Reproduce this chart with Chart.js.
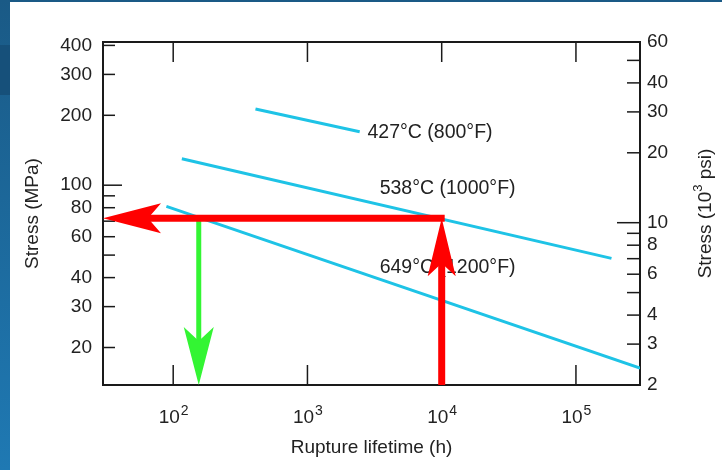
<!DOCTYPE html>
<html>
<head>
<meta charset="utf-8">
<script src="https://cdn.jsdelivr.net/npm/chart.js@4/dist/chart.umd.min.js"></script>
<style>
    html, body { margin: 0; padding: 0; background: #fff; }
    canvas { display: block; }
</style>
</head>
<body>
<canvas id="chart-rupture" width="722" height="470"></canvas>
<script>
// Stress vs rupture lifetime, one line per temperature (h, MPa)
const TEMP_LABELS = ['427°C (800°F)', '538°C (1000°F)', '649°C (1200°F)'];
const LIFE_427 = [410, 2450];
const STRESS_427 = [213, 170];
const LIFE_538 = [116, 184000];
const STRESS_538 = [130, 48.4];
const LIFE_649 = [89, 300000];
const STRESS_649 = [81, 16.3];

// anchor of each temperature label (h, MPa)
const LABEL_LIFE = [2800, 3450, 3450];
const LABEL_STRESS = [168, 97, 44];

// worked example: 1e4 h at 538°C gives the stress, read back at 649°C
const EXAMPLE_LIFE = [10000, 155];
const EXAMPLE_STRESS = 72;

const X_TICKS = [100, 1000, 10000, 100000];
const X_EXPONENTS = ['2', '3', '4', '5'];
const Y_TICKS = [20, 30, 40, 60, 80, 100, 200, 300, 400];
const Y_MINOR = [50, 70, 90];
const PSI_TICKS = [2, 3, 4, 6, 8, 10, 20, 30, 40, 60];
const PSI_MINOR = [5, 7, 9, 50];
const MPA_PER_KSI = 6.895;

const FONT = '"Liberation Sans", Arial, sans-serif';
const TEXT = '#222';
const CYAN = '#1ec3e6';
const RED = '#ff0000';
const GREEN = '#33f533';

Chart.defaults.font.family = FONT;
Chart.defaults.color = TEXT;

function toPoints(xs, ys) {
    return xs.map((x, i) => ({ x: x, y: ys[i] }));
}

function line(ctx, x0, y0, x1, y1) {
    ctx.beginPath();
    ctx.moveTo(x0, y0);
    ctx.lineTo(x1, y1);
    ctx.stroke();
}

function drawArrow(ctx, x0, y0, x1, y1, shaft, color, head, half, notch) {
    const ang = Math.atan2(y1 - y0, x1 - x0);
    const ux = Math.cos(ang), uy = Math.sin(ang);
    const nx = -uy, ny = ux;
    ctx.strokeStyle = color;
    ctx.lineWidth = shaft;
    ctx.lineCap = 'butt';
    line(ctx, x0, y0, x1 - ux * (notch - 1), y1 - uy * (notch - 1));
    ctx.fillStyle = color;
    ctx.beginPath();
    ctx.moveTo(x1, y1);
    ctx.lineTo(x1 - ux * head + nx * half, y1 - uy * head + ny * half);
    ctx.lineTo(x1 - ux * notch, y1 - uy * notch);
    ctx.lineTo(x1 - ux * head - nx * half, y1 - uy * head - ny * half);
    ctx.closePath();
    ctx.fill();
}

const backgroundPlugin = {
    id: 'slideBackground',
    beforeDraw(chart) {
        const { ctx, width, height } = chart;
        ctx.save();
        const g = ctx.createLinearGradient(0, 0, 0, height);
        g.addColorStop(0, '#1a5a86');
        g.addColorStop(1, '#1f79b3');
        ctx.fillStyle = g;
        ctx.fillRect(0, 0, width, height);
        ctx.fillStyle = '#16507a';
        ctx.fillRect(0, 45, 10, 50);
        ctx.fillStyle = '#ffffff';
        ctx.fillRect(10, 2, width - 10, height - 2);
        ctx.restore();
    }
};

const framePlugin = {
    id: 'frameTicks',
    beforeDatasetsDraw(chart) {
        const { ctx, chartArea } = chart;
        const { left, right, top, bottom } = chartArea;
        const x = chart.scales.x, y = chart.scales.y, y2 = chart.scales.y2;
        ctx.save();
        ctx.strokeStyle = '#1a1a1a';
        ctx.lineWidth = 2;
        ctx.strokeRect(left, top, right - left, bottom - top);
        ctx.lineWidth = 1.5;
        X_TICKS.forEach(v => {
            const px = x.getPixelForValue(v);
            line(ctx, px, bottom, px, bottom - 20);
            line(ctx, px, top, px, top + 20);
        });
        Y_TICKS.concat(Y_MINOR).forEach(v => {
            const py = y.getPixelForValue(v);
            line(ctx, left, py, left + (v === 100 ? 19 : 12), py);
        });
        PSI_TICKS.concat(PSI_MINOR).forEach(v => {
            const py = y2.getPixelForValue(v);
            line(ctx, right, py, right - (v === 10 ? 23 : 13), py);
        });
        ctx.restore();
    }
};

const annotationPlugin = {
    id: 'annotations',
    afterDatasetsDraw(chart) {
        const { ctx, chartArea } = chart;
        const x = chart.scales.x, y = chart.scales.y;
        ctx.save();

        // temperature labels
        ctx.fillStyle = TEXT;
        ctx.font = '19.5px ' + FONT;
        ctx.textAlign = 'left';
        ctx.textBaseline = 'middle';
        TEMP_LABELS.forEach((t, i) => {
            ctx.fillText(t, x.getPixelForValue(LABEL_LIFE[i]), y.getPixelForValue(LABEL_STRESS[i]));
        });

        // x tick labels as 10^n
        ctx.textBaseline = 'alphabetic';
        X_TICKS.forEach((v, i) => {
            const px = x.getPixelForValue(v);
            ctx.font = '19px ' + FONT;
            const wBase = ctx.measureText('10').width;
            ctx.font = '14px ' + FONT;
            const wExp = ctx.measureText(X_EXPONENTS[i]).width;
            const x0 = px - (wBase + wExp) / 2;
            ctx.font = '19px ' + FONT;
            ctx.fillText('10', x0, 423);
            ctx.font = '14px ' + FONT;
            ctx.fillText(X_EXPONENTS[i], x0 + wBase + 1, 415);
        });

        // right axis title, reading upward
        ctx.save();
        ctx.translate(706, (chartArea.top + chartArea.bottom) / 2);
        ctx.rotate(-Math.PI / 2);
        const parts = [['Stress (10', 19, 0], ['3', 13, -8], [' psi)', 19, 0]];
        let total = 0;
        parts.forEach(p => { ctx.font = p[1] + 'px ' + FONT; total += ctx.measureText(p[0]).width; });
        let cx = -total / 2;
        ctx.textBaseline = 'middle';
        parts.forEach(p => {
            ctx.font = p[1] + 'px ' + FONT;
            ctx.fillText(p[0], cx, p[2]);
            cx += ctx.measureText(p[0]).width;
        });
        ctx.restore();

        // example arrows
        const ys = y.getPixelForValue(EXAMPLE_STRESS);
        const xr = x.getPixelForValue(EXAMPLE_LIFE[0]);
        const xg = x.getPixelForValue(EXAMPLE_LIFE[1]);
        drawArrow(ctx, xg, ys, xg, chartArea.bottom, 5, GREEN, 58, 15, 44);
        drawArrow(ctx, xr, chartArea.bottom, xr, ys, 7, RED, 58, 14, 45);
        drawArrow(ctx, xr + 3, ys, chartArea.left, ys, 7, RED, 58, 15, 45);

        ctx.restore();
    }
};

const lineStyle = {
    borderColor: CYAN,
    backgroundColor: CYAN,
    borderWidth: 3,
    pointRadius: 0,
    fill: false,
    yAxisID: 'y'
};

new Chart(document.getElementById('chart-rupture'), {
    type: 'line',
    data: {
        datasets: [
            Object.assign({ label: TEMP_LABELS[0], data: toPoints(LIFE_427, STRESS_427) }, lineStyle),
            Object.assign({ label: TEMP_LABELS[1], data: toPoints(LIFE_538, STRESS_538) }, lineStyle),
            Object.assign({ label: TEMP_LABELS[2], data: toPoints(LIFE_649, STRESS_649) }, lineStyle)
        ]
    },
    options: {
        responsive: false,
        animation: false,
        layout: { padding: { top: 42, left: 0, right: 0, bottom: 0 } },
        plugins: {
            legend: { display: false },
            tooltip: { enabled: false }
        },
        scales: {
            x: {
                type: 'logarithmic',
                min: 30,
                max: 300000,
                grid: { display: false, drawTicks: false },
                border: { display: false },
                ticks: { display: false },
                afterBuildTicks: (scale) => { scale.ticks = X_TICKS.map(v => ({ value: v })); },
                afterFit: (scale) => { scale.height = 85; },
                title: {
                    display: true,
                    text: 'Rupture lifetime (h)',
                    font: { size: 19 },
                    color: TEXT,
                    padding: { top: 0, bottom: 11 }
                }
            },
            y: {
                type: 'logarithmic',
                position: 'left',
                min: 2 * MPA_PER_KSI,
                max: 60 * MPA_PER_KSI,
                grid: { display: false, drawTicks: false },
                border: { display: false },
                ticks: {
                    autoSkip: false,
                    padding: 11,
                    font: { size: 19 },
                    color: TEXT,
                    callback: (v) => String(v)
                },
                afterBuildTicks: (scale) => { scale.ticks = Y_TICKS.map(v => ({ value: v })); },
                afterFit: (scale) => { scale.width = 103; },
                title: {
                    display: true,
                    text: 'Stress (MPa)',
                    font: { size: 19 },
                    color: TEXT,
                    padding: { top: 21, bottom: 0 }
                }
            },
            y2: {
                type: 'logarithmic',
                position: 'right',
                min: 2,
                max: 60,
                grid: { display: false, drawTicks: false },
                border: { display: false },
                ticks: {
                    autoSkip: false,
                    padding: 7,
                    font: { size: 19 },
                    color: TEXT,
                    callback: (v) => String(v)
                },
                afterBuildTicks: (scale) => { scale.ticks = PSI_TICKS.map(v => ({ value: v })); },
                afterFit: (scale) => { scale.width = 82; }
            }
        }
    },
    plugins: [backgroundPlugin, framePlugin, annotationPlugin]
});
</script>
</body>
</html>
